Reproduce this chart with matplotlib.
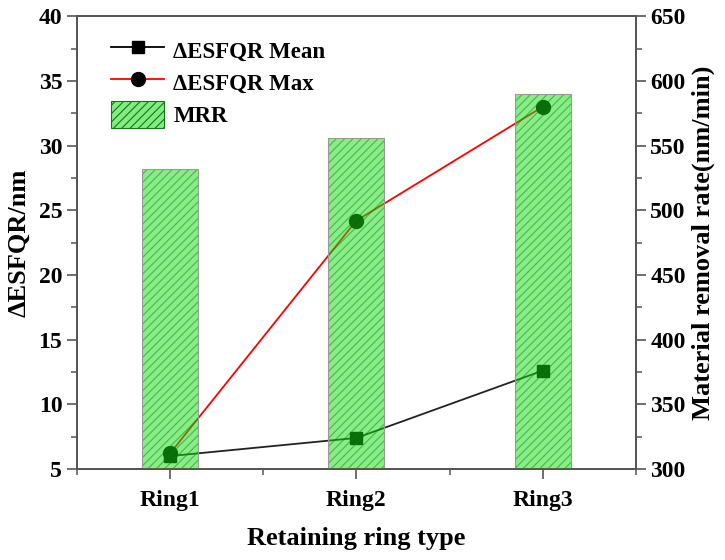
import matplotlib
matplotlib.use('Agg')
import matplotlib.pyplot as plt
from matplotlib.lines import Line2D
from matplotlib.patches import Patch
from matplotlib.ticker import MultipleLocator
import numpy as np

rings = ['Ring1', 'Ring2', 'Ring3']
esfqr_mean = [6.0, 7.4, 12.6]
esfqr_max = [6.2, 24.2, 33.0]
mrr = [532, 556, 590]

plt.rcParams['font.family'] = ['Liberation Serif', 'DejaVu Serif']
plt.rcParams['font.weight'] = 'bold'
plt.rcParams['hatch.linewidth'] = 0.8

x = np.arange(1, len(rings) + 1)
spine_c = '#555555'
bar_c = (0.05, 0.88, 0.05)
hatch_c = (0.1, 0.45, 0.1)

fig = plt.figure(figsize=(7.25, 5.6), dpi=100)
ax = fig.add_axes([0.106, 0.1625, 0.771, 0.8085])
ax.plot(x, esfqr_mean, color='#222222', lw=1.3, marker='s', ms=9, mfc='black', mec='black')
ax.plot(x, esfqr_max, color='red', lw=1.3, marker='o', ms=10, mfc='black', mec='black')
ax.set_xlim(0.5, 3.5)
ax.set_ylim(5, 40)
ax.set_xticks(x)
ax.set_xticklabels(rings)
ax.xaxis.set_minor_locator(MultipleLocator(0.5))
ax.yaxis.set_major_locator(MultipleLocator(5))
ax.yaxis.set_minor_locator(MultipleLocator(2.5))
ax.set_ylabel('ΔESFQR/nm', fontsize=19, fontweight='bold', labelpad=6)
ax.set_xlabel('Retaining ring type', fontsize=19, fontweight='bold', labelpad=12)

ax2 = ax.twinx()
ax2.bar(x, mrr, width=0.3, color=bar_c, alpha=0.5, edgecolor='none')
ax2.bar(x, mrr, width=0.3, color='none', edgecolor=hatch_c, lw=0, hatch='////', alpha=0.5)
ax2.bar(x, mrr, width=0.3, fill=False, edgecolor='#999999', lw=0.8)
ax2.set_ylim(300, 650)
ax2.yaxis.set_major_locator(MultipleLocator(50))
ax2.yaxis.set_minor_locator(MultipleLocator(25))
ax2.set_ylabel('Material removal rate(nm/min)', fontsize=19, fontweight='bold', labelpad=4)

for a in (ax, ax2):
    for s in a.spines.values():
        s.set_color(spine_c)
        s.set_linewidth(1.3)
    a.tick_params(which='major', direction='out', length=7, width=1.2, color=spine_c, labelsize=17)
    a.tick_params(which='minor', direction='out', length=4, width=1.1, color=spine_c)
ax.tick_params(axis='x', which='major', pad=8)

handles = [
    Line2D([], [], color='black', lw=1.3, marker='s', ms=9, mfc='black'),
    Line2D([], [], color='red', lw=1.3, marker='o', ms=10, mfc='black', mec='black'),
    Patch(facecolor=(0.5, 0.93, 0.5), edgecolor=hatch_c, hatch='////', lw=0.8),
]
labels = ['ΔESFQR Mean', 'ΔESFQR Max', 'MRR']
leg = ax2.legend(handles, labels, loc='upper left', bbox_to_anchor=(0.025, 1.0), frameon=False,
                 prop={'size': 16.5, 'weight': 'bold'}, handlelength=2.3, handleheight=1.4,
                 labelspacing=0.25, handletextpad=0.4)

fig.savefig('out.png', dpi=100)
